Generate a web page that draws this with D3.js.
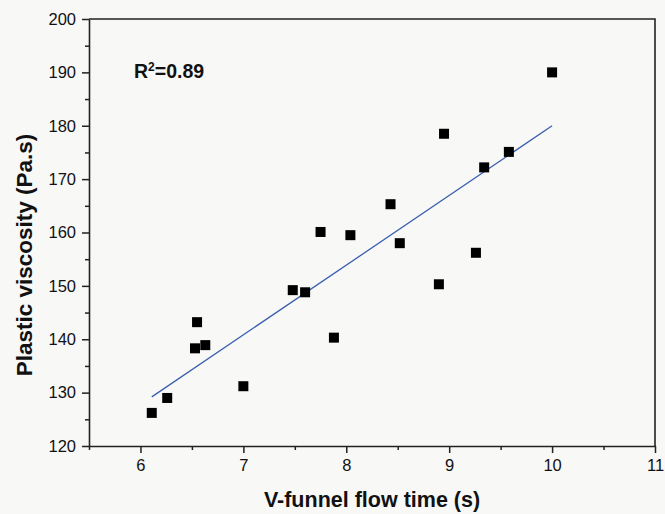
<!DOCTYPE html>
<html>
<head>
<meta charset="utf-8">
<script src="https://cdn.jsdelivr.net/npm/d3@7"></script>
<style>
  body { margin: 0; background: #f8f8f7; }
  text { font-family: "Liberation Sans", Arial, sans-serif; }
</style>
</head>
<body>
<div id="chart"></div>
<script>
// data
var flowTime = [6.11, 6.26, 6.53, 6.55, 6.63, 7.0, 7.48, 7.6, 7.75, 7.88, 8.04, 8.43, 8.52, 8.9, 8.95, 9.26, 9.34, 9.58, 10.0];
var viscosity = [126.2, 129.0, 138.3, 143.2, 138.9, 131.2, 149.2, 148.8, 160.1, 140.3, 159.5, 165.3, 158.0, 150.3, 178.5, 156.2, 172.2, 175.1, 190.0];
var fitX = [6.11, 10.0];
var fitY = [129.2, 180.0];
var xTicks = [6, 7, 8, 9, 10, 11];
var yTicks = [120, 130, 140, 150, 160, 170, 180, 190, 200];

var margin = {top: 19, right: 10, bottom: 68, left: 89},
    W = 665, H = 514,
    width = W - margin.left - margin.right,
    height = H - margin.top - margin.bottom;

var svg = d3.select("#chart")
    .append("svg")
    .attr("width", W)
    .attr("height", H)
    .append("g")
    .attr("transform", "translate(" + margin.left + "," + margin.top + ")");

var x = d3.scaleLinear().domain([5.5, 11]).range([0, width]);
var y = d3.scaleLinear().domain([120, 200]).range([height, 0]);

// minor ticks
var xMinor = d3.range(5.5, 11, 1);
var yMinor = d3.range(125, 200, 10);

svg.append("g")
    .attr("transform", "translate(0," + height + ")")
    .call(d3.axisBottom(x).tickValues(xMinor).tickSize(4).tickFormat(""))
    .call(g => g.select(".domain").remove());
svg.append("g")
    .call(d3.axisLeft(y).tickValues(yMinor).tickSize(4).tickFormat(""))
    .call(g => g.select(".domain").remove());

var xAxis = svg.append("g")
    .attr("transform", "translate(0," + height + ")")
    .call(d3.axisBottom(x).tickValues(xTicks).tickSize(7).tickSizeOuter(0).tickPadding(6).tickFormat(d3.format("d")));
var yAxis = svg.append("g")
    .call(d3.axisLeft(y).tickValues(yTicks).tickSize(7).tickSizeOuter(0).tickPadding(6).tickFormat(d3.format("d")));

[xAxis, yAxis].forEach(function(a) {
    a.selectAll("text").attr("font-size", 16.5).attr("fill", "#111")
        .style("font-family", "'Liberation Sans', Arial, sans-serif");
    a.select(".domain").attr("stroke", "#222").attr("stroke-width", 1.6);
});
svg.selectAll(".tick line").attr("stroke", "#222").attr("stroke-width", 1.5);

// top & right frame
svg.append("path")
    .attr("d", "M0,0H" + width + "V" + height)
    .attr("fill", "none")
    .attr("stroke", "#222")
    .attr("stroke-width", 1.6);

// fit line
svg.append("line")
    .attr("x1", x(fitX[0])).attr("y1", y(fitY[0]))
    .attr("x2", x(fitX[1])).attr("y2", y(fitY[1]))
    .attr("stroke", "#3a5fb0")
    .attr("stroke-width", 1.3);

// points
var pts = flowTime.map(function(d, i) { return [d, viscosity[i]]; });
var s = 10;
svg.append("g")
    .selectAll("rect")
    .data(pts)
    .enter().append("rect")
    .attr("x", function(d) { return x(d[0]) - s / 2; })
    .attr("y", function(d) { return y(d[1]) - s / 2; })
    .attr("width", s)
    .attr("height", s)
    .attr("fill", "#000");

// R^2 label
var r2 = svg.append("text")
    .attr("x", 45)
    .attr("y", 59)
    .attr("font-size", 19.5)
    .attr("font-weight", "bold")
    .attr("fill", "#111");
r2.append("tspan").text("R");
r2.append("tspan").attr("dy", -7).attr("font-size", 12).text("2");
r2.append("tspan").attr("dy", 7).text("=0.89");

// axis titles
svg.append("text")
    .attr("x", width / 2)
    .attr("y", height + 61)
    .attr("text-anchor", "middle")
    .attr("font-size", 21.5)
    .attr("font-weight", "bold")
    .attr("fill", "#111")
    .text("V-funnel flow time (s)");

svg.append("text")
    .attr("transform", "rotate(-90)")
    .attr("x", -236)
    .attr("y", -57)
    .attr("text-anchor", "middle")
    .attr("font-size", 22.5)
    .attr("font-weight", "bold")
    .attr("fill", "#111")
    .text("Plastic viscosity (Pa.s)");
</script>
</body>
</html>
